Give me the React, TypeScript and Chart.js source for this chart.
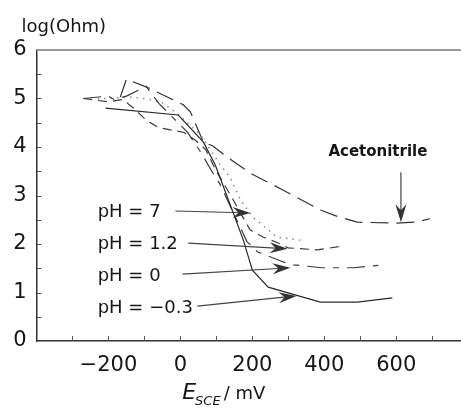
import React, { useEffect, useRef } from "react";
import { Chart, registerables } from "chart.js";

Chart.register(...registerables);

// ---- Data (E_SCE in mV, log(Ohm)) ----
const phM03X = [-208, -6, 64, 97, 139, 175, 200, 244, 389, 492, 589];
const phM03Y = [4.80, 4.66, 4.10, 3.63, 2.80, 2.08, 1.46, 1.11, 0.80, 0.80, 0.89];

const ph0X = [-270, -200, -185, -150, -95, -60, -20, 20, 56, 89, 111, 150, 185, 214, 286, 314, 394, 481, 550];
const ph0Y = [5.0, 5.05, 4.98, 5.05, 5.25, 4.9, 4.6, 4.3, 3.9, 3.48, 3.22, 2.6, 2.05, 1.84, 1.63, 1.57, 1.51, 1.51, 1.56];

const ph12X = [-270, -200, -160, -130, -95, -60, 10, 40, 70, 100, 140, 170, 194, 231, 272, 300, 381, 453];
const ph12Y = [5.0, 4.93, 4.98, 4.8, 4.55, 4.4, 4.3, 4.15, 3.95, 3.5, 3.0, 2.6, 2.29, 2.14, 2.02, 1.92, 1.88, 1.96];

const ph7X = [-230, -139, -89, -50, -14, 56, 111, 139, 167, 203, 228, 269, 333, 340];
const ph7Y = [4.99, 5.03, 4.99, 4.91, 4.72, 4.25, 3.63, 3.36, 2.91, 2.54, 2.39, 2.14, 2.08, 2.08];

const acnX = [-167, -150, -89, -64, 8, 28, 64, 90, 131, 194, 286, 389, 439, 492, 597, 653, 694];
const acnY = [5.03, 5.4, 5.22, 5.13, 4.87, 4.72, 4.10, 4.02, 3.79, 3.46, 3.11, 2.70, 2.56, 2.45, 2.43, 2.45, 2.52];

const xLabelValues = [-200, 0, 200, 400, 600];
const yLabelValues = [0, 1, 2, 3, 4, 5, 6];

// Annotations: label text, label position, arrow tail, arrow tip (data units)
const annLabels = ["pH = 7", "pH = 1.2", "pH = 0", "pH = \u22120.3"];
const annLabelX = [-230, -230, -230, -230];
const annLabelY = [2.66, 2.0, 1.34, 0.68];
const annTailX = [-14, 22, 6, 47];
const annTailY = [2.68, 2.02, 1.38, 0.72];
const annTipX = [195, 298, 306, 323];
const annTipY = [2.64, 1.90, 1.51, 0.93];
const acnLabel = "Acetonitrile";
const acnLabelPos = [549, 3.90];
const acnArrowTail = [613, 3.48];
const acnArrowTip = [613, 2.45];

const zip = (xs: number[], ys: number[]) => xs.map((x, i) => ({ x, y: ys[i] }));

const FONT = "'DejaVu Sans', 'Liberation Sans', Arial, sans-serif";
const TEXT = "#161616";

function drawArrow(ctx: CanvasRenderingContext2D, x1: number, y1: number, x2: number, y2: number) {
  const ang = Math.atan2(y2 - y1, x2 - x1);
  const len = 18;
  const half = 5.5;
  const notch = 6;
  ctx.save();
  ctx.strokeStyle = "#444";
  ctx.lineWidth = 1.2;
  ctx.beginPath();
  ctx.moveTo(x1, y1);
  ctx.lineTo(x2 - Math.cos(ang) * 8, y2 - Math.sin(ang) * 8);
  ctx.stroke();
  ctx.translate(x2, y2);
  ctx.rotate(ang);
  ctx.fillStyle = "#333";
  ctx.beginPath();
  ctx.moveTo(0, 0);
  ctx.lineTo(-len, -half);
  ctx.lineTo(-len + notch, 0);
  ctx.lineTo(-len, half);
  ctx.closePath();
  ctx.fill();
  ctx.restore();
}

const decorPlugin = {
  id: "decor",
  afterDraw(chart: any) {
    const { ctx, chartArea, scales } = chart;
    const xs = scales.x;
    const ys = scales.y;
    ctx.save();
    // top border
    ctx.strokeStyle = "#999";
    ctx.lineWidth = 2;
    ctx.beginPath();
    ctx.moveTo(chartArea.left, chartArea.top);
    ctx.lineTo(chartArea.right, chartArea.top);
    ctx.stroke();
    // inner ticks
    ctx.strokeStyle = "#555";
    ctx.lineWidth = 1;
    for (let v = -300; v <= 700; v += 100) {
      const px = Math.round(xs.getPixelForValue(v)) + 0.5;
      ctx.beginPath();
      ctx.moveTo(px, chartArea.bottom);
      ctx.lineTo(px, chartArea.bottom - 5);
      ctx.stroke();
    }
    for (let v = 0.5; v < 6; v += 0.5) {
      const py = Math.round(ys.getPixelForValue(v)) + 0.5;
      ctx.beginPath();
      ctx.moveTo(chartArea.left, py);
      ctx.lineTo(chartArea.left + 5, py);
      ctx.stroke();
    }
    // y title
    ctx.fillStyle = TEXT;
    ctx.font = `18px ${FONT}`;
    ctx.textAlign = "left";
    ctx.textBaseline = "middle";
    ctx.fillText("log(Ohm)", chartArea.left - 15, chartArea.top - 23);
    // x title: E_SCE / mV
    const baseY = chartArea.bottom + 58;
    let tx = xs.getPixelForValue(5);
    ctx.textBaseline = "alphabetic";
    ctx.font = `italic 22px ${FONT}`;
    ctx.fillText("E", tx, baseY);
    tx += ctx.measureText("E").width;
    ctx.font = `italic 13px ${FONT}`;
    ctx.fillText("SCE", tx - 1, baseY + 6);
    tx += ctx.measureText("SCE").width;
    ctx.font = `18px ${FONT}`;
    ctx.fillText("/ mV", tx + 2, baseY);
    // annotations
    ctx.font = `18px ${FONT}`;
    ctx.textBaseline = "middle";
    for (let i = 0; i < annLabels.length; i++) {
      ctx.fillStyle = TEXT;
      ctx.fillText(annLabels[i], xs.getPixelForValue(annLabelX[i]), ys.getPixelForValue(annLabelY[i]));
      drawArrow(
        ctx,
        xs.getPixelForValue(annTailX[i]),
        ys.getPixelForValue(annTailY[i]),
        xs.getPixelForValue(annTipX[i]),
        ys.getPixelForValue(annTipY[i])
      );
    }
    ctx.font = `bold 15px ${FONT}`;
    ctx.textAlign = "center";
    ctx.fillStyle = TEXT;
    ctx.fillText(acnLabel, xs.getPixelForValue(acnLabelPos[0]), ys.getPixelForValue(acnLabelPos[1]));
    drawArrow(
      ctx,
      xs.getPixelForValue(acnArrowTail[0]),
      ys.getPixelForValue(acnArrowTail[1]),
      xs.getPixelForValue(acnArrowTip[0]),
      ys.getPixelForValue(acnArrowTip[1])
    );
    ctx.restore();
  },
};

export default function App() {
  const ref = useRef<HTMLCanvasElement | null>(null);
  useEffect(() => {
    document.body.style.margin = "0";
    const canvas = ref.current;
    if (!canvas) return;
    const lineBase = { pointRadius: 0, borderWidth: 1.2, tension: 0, fill: false, showLine: true };
    const chart = new Chart(canvas, {
      type: "scatter",
      data: {
        datasets: [
          { ...lineBase, label: "pH = -0.3", data: zip(phM03X, phM03Y), borderColor: "#2a2a2a" },
          { ...lineBase, label: "pH = 0", data: zip(ph0X, ph0Y), borderColor: "#3a3a3a", borderDash: [18, 8, 6, 8] },
          { ...lineBase, label: "pH = 1.2", data: zip(ph12X, ph12Y), borderColor: "#3a3a3a", borderDash: [9, 6] },
          { ...lineBase, label: "pH = 7", data: zip(ph7X, ph7Y), borderColor: "#888", borderDash: [1.5, 5], borderWidth: 1.5 },
          { ...lineBase, label: "Acetonitrile", data: zip(acnX, acnY), borderColor: "#333", borderDash: [18, 8] },
        ],
      },
      options: {
        animation: false,
        responsive: false,
        maintainAspectRatio: false,
        layout: { padding: { top: 50, right: 0, left: 0, bottom: 0 } },
        plugins: { legend: { display: false }, tooltip: { enabled: false } },
        scales: {
          x: {
            type: "linear",
            min: -400,
            max: 780,
            grid: { display: false, drawTicks: false },
            border: { display: true, color: "#333", width: 1.5 },
            afterBuildTicks: (scale: any) => {
              scale.ticks = xLabelValues.map((v) => ({ value: v }));
            },
            afterFit: (scale: any) => {
              scale.height = 69;
            },
            ticks: {
              autoSkip: false,
              maxRotation: 0,
              padding: 12,
              color: TEXT,
              font: { family: FONT, size: 21 },
              callback: (v: any) => (Number(v) < 0 ? "\u2212" + Math.abs(Number(v)) : String(v)),
            },
          },
          y: {
            type: "linear",
            min: 0,
            max: 6,
            grid: { display: false, drawTicks: false },
            border: { display: true, color: "#333", width: 1.5 },
            afterBuildTicks: (scale: any) => {
              scale.ticks = yLabelValues.map((v) => ({ value: v }));
            },
            afterFit: (scale: any) => {
              scale.width = 36.5;
            },
            ticks: {
              padding: 10,
              color: TEXT,
              font: { family: FONT, size: 21 },
            },
          },
        },
      },
      plugins: [decorPlugin],
    });
    return () => chart.destroy();
  }, []);
  return (
    <div style={{ width: 461, height: 410 }}>
      <canvas ref={ref} width={461} height={410} style={{ display: "block" }} />
    </div>
  );
}
